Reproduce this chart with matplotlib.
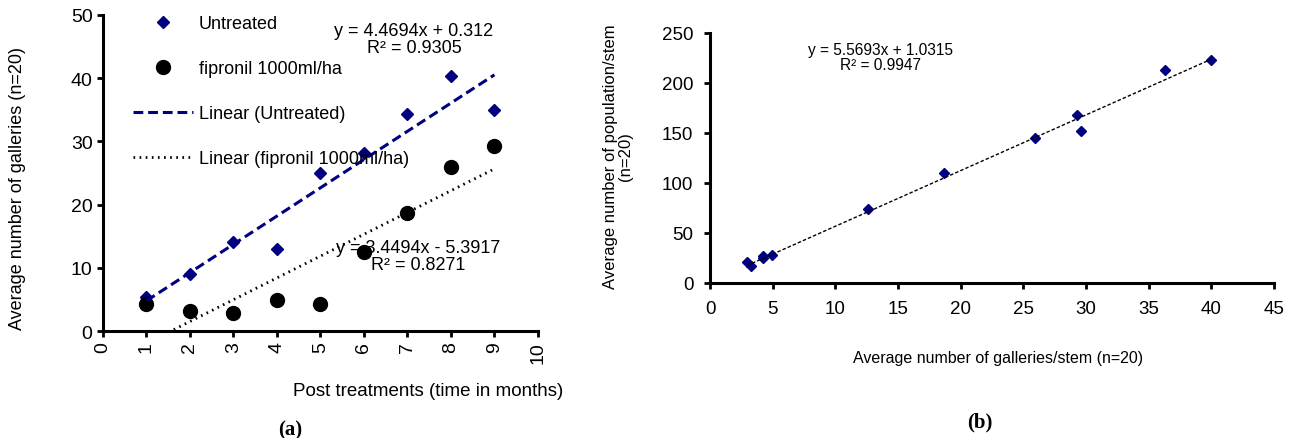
import matplotlib
matplotlib.use("Agg")
import matplotlib.pyplot as plt
import numpy as np

plt.rcParams['font.family'] = ['Liberation Sans', 'DejaVu Sans']

# (a) galleries over time
months = [1, 2, 3, 4, 5, 6, 7, 8, 9]
untreated = [5.4, 9.0, 14.1, 13.0, 25.0, 28.2, 34.3, 40.4, 35.0]
fipronil = [4.2, 3.2, 2.9, 4.9, 4.3, 12.5, 18.7, 26.0, 29.3]
fit_untreated = (4.4694, 0.312, 0.9305)
fit_fipronil = (3.4494, -5.3917, 0.8271)

# (b) population vs galleries
galleries = [2.95, 3.3, 4.25, 4.25, 4.95, 12.6, 18.65, 25.9, 29.3, 29.6, 36.3, 40.0]
population = [20.5, 17.3, 27.0, 24.5, 27.8, 73.5, 109.5, 145.0, 167.5, 151.5, 212.5, 222.5]
fit_pop = (5.5693, 1.0315, 0.9947)

navy = '#000080'

fig = plt.figure(figsize=(12.95, 4.39), dpi=100)

# ---------- panel (a) ----------
ax1 = fig.add_axes([0.0795, 0.2437, 0.3359, 0.7199])
ax1.plot(months, untreated, 'D', color=navy, ms=6.5, label='Untreated')
ax1.plot(months, fipronil, 'o', color='black', ms=10, label='fipronil 1000ml/ha')

xl = np.array([months[0], months[-1]])
ax1.plot(xl, fit_untreated[0] * xl + fit_untreated[1], '--', color=navy, lw=2.2,
         dashes=(3.2, 1.6), label='Linear (Untreated)')
ax1.plot(xl, fit_fipronil[0] * xl + fit_fipronil[1], ':', color='black', lw=2.0,
         dashes=(0.6, 1.6), label='Linear (fipronil 1000ml/ha)')

ax1.set_xlim(0, 10)
ax1.set_ylim(0, 50)
ax1.set_xticks(range(0, 11))
ax1.set_yticks(range(0, 51, 10))
ax1.tick_params(axis='x', labelrotation=90, labelsize=14, width=2, length=4, direction='out')
ax1.tick_params(axis='y', labelsize=14, width=2, length=4, direction='out')
for s in ['top', 'right']:
    ax1.spines[s].set_visible(False)
for s in ['left', 'bottom']:
    ax1.spines[s].set_linewidth(2.2)

ax1.text(7.15, 46.2, 'y = %.4fx + %.3f\nR² = %.4f' % fit_untreated,
         ha='center', va='center', fontsize=13, multialignment='center', linespacing=1.0)
ax1.text(7.24, 11.9, 'y = %.4fx - %.4f\nR² = %.4f' % (fit_fipronil[0], -fit_fipronil[1], fit_fipronil[2]),
         ha='center', va='center', fontsize=13, multialignment='center', linespacing=1.0)

fig.legend(loc='upper left', bbox_to_anchor=(133 / 1295, 1 - 16 / 439), frameon=False,
           fontsize=13, handlelength=3.3, handletextpad=0.35, labelspacing=1.55,
           borderpad=0, borderaxespad=0)

fig.text(18 / 1295, 1 - 188 / 439, 'Average number of galleries (n=20)', rotation=90,
         ha='center', va='center', fontsize=13)
fig.text(563 / 1295, 1 - 392 / 439, 'Post treatments (time in months)',
         ha='right', va='center', fontsize=13.5)
fig.text(290 / 1295, 1 - 430 / 439, '(a)', ha='center', va='center', fontsize=15,
         fontweight='bold', family='Liberation Serif')

# ---------- panel (b) ----------
narrow = ['Liberation Sans Narrow', 'Liberation Sans']
ax2 = fig.add_axes([0.5483, 0.3531, 0.4355, 0.5695])
ax2.plot(galleries, population, 'D', color=navy, ms=5.5)
xg = np.array([min(galleries), max(galleries)])
ax2.plot(xg, fit_pop[0] * xg + fit_pop[1], '--', color='black', lw=1.0, dashes=(2.5, 1.5))

ax2.set_xlim(0, 45)
ax2.set_ylim(0, 250)
ax2.set_xticks(range(0, 46, 5))
ax2.set_yticks(range(0, 251, 50))
ax2.tick_params(labelsize=13.5, width=2, length=4, direction='out', pad=8)
for lab in ax2.get_xticklabels() + ax2.get_yticklabels():
    lab.set_family(narrow)
for s in ['top', 'right']:
    ax2.spines[s].set_visible(False)
for s in ['left', 'bottom']:
    ax2.spines[s].set_linewidth(2.2)

ax2.text(13.6, 226, 'y = %.4fx + %.4f\nR² = %.4f' % fit_pop, ha='center', va='center',
         fontsize=11.2, family=narrow, multialignment='center', linespacing=1.0)

fig.text(618 / 1295, 1 - 157 / 439, 'Average number of population/stem\n(n=20)', rotation=90,
         ha='center', va='center', fontsize=12, family=narrow, multialignment='center',
         linespacing=1.0)
fig.text(998 / 1295, 1 - 359 / 439, 'Average number of galleries/stem (n=20)',
         ha='center', va='center', fontsize=11.5, family=narrow)
fig.text(980 / 1295, 1 - 422 / 439, '(b)', ha='center', va='center', fontsize=15,
         fontweight='bold', family='Liberation Serif')

fig.savefig('out.png', dpi=100)
